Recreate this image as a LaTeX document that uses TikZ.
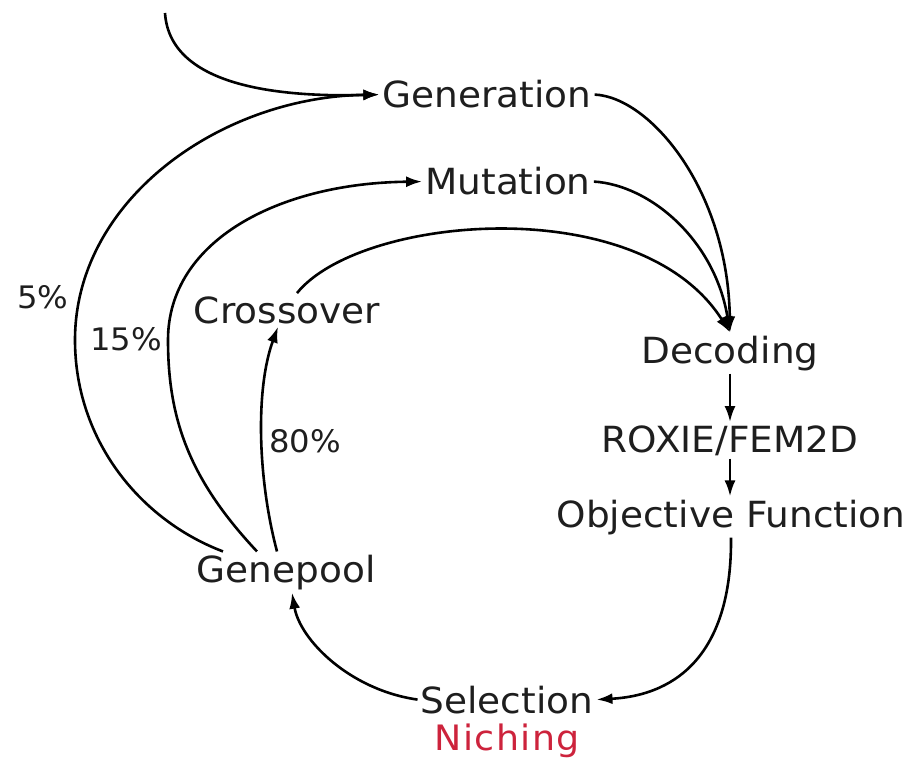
\documentclass[tikz,border=0pt]{standalone}
\usepackage{fontspec}
\setmainfont{DejaVu Sans}[FakeStretch=1.04]
\newfontfamily\nichfont{DejaVu Sans}[FakeStretch=1.04,LetterSpace=4]
\usetikzlibrary{arrows.meta,calc}
\definecolor{txt}{RGB}{30,30,30}
\definecolor{nich}{RGB}{205,35,60}
\begin{document}
\begin{tikzpicture}[x=1pt,y=-1pt,
  lbl/.style={text=txt,inner sep=3pt,anchor=base,font=\fontsize{36}{40}\selectfont},
  pct/.style={text=txt,inner sep=2pt,anchor=base,font=\fontsize{31}{36}\selectfont},
  conn/.style={line width=2.6pt,-{Latex[length=16pt,width=11pt]}}]
\useasboundingbox[fill=white] (0,0) rectangle (923,759);
\node[lbl] (gen) at (487,108) {Generation};
\node[lbl] (mut) at (508,195) {Mutation};
\node[lbl] (cross) at (287,323) {Crossover};
\node[lbl] (dec) at (730,363) {Decoding};
\node[lbl] (rox) at (730,452) {ROXIE/FEM2D};
\node[lbl] (obj) at (731,527) {Objective Function};
\node[lbl] (gp) at (286,582) {Genepool};
\node[lbl] (sel) at (507,713) {Selection};
\node[lbl,text=nich,font=\nichfont\fontsize{35}{40}\selectfont] (nich) at (507,750) {Niching};
\node[pct] (p5) at (43,308) {5\%};
\node[pct] (p15) at (126,350) {15\%};
\node[pct] (p80) at (305,452) {80\%};
\coordinate (src) at (165,13);
\draw[conn] (src) .. controls (170,90) and (290,97) .. (gen.west);
\draw[conn] ($(gp.north)+(-63,0)$) .. controls (140,520) and (75,440) .. (75,340) .. controls (75,200) and (220,97) .. (gen.west);
\draw[conn] ($(gp.north)+(-29,0)$) .. controls (190,480) and (168,420) .. (168,340) .. controls (168,240) and (280,183) .. (mut.west);
\draw[conn] ($(gp.north)+(-9,0)$) .. controls (258,480) and (255,390) .. ($(cross.south)+(-9,0)$);
\draw[conn] ($(cross.north)+(10,0)$) .. controls (360,215) and (640,190) .. (dec.north);
\draw[conn] (gen.east) .. controls (650,97) and (728,190) .. (dec.north);
\draw[conn] (mut.east) .. controls (650,185) and (715,240) .. (dec.north);
\draw[conn] (dec.south) -- (rox.north);
\draw[conn] (rox.south) -- (rox.south |- obj.north);
\draw[conn] (obj.south) .. controls (732,650) and (680,695) .. (sel.east);
\draw[conn] (sel.west) .. controls (350,690) and (300,640) .. ($(gp.south)+(6,0)$);
\end{tikzpicture}
\end{document}
